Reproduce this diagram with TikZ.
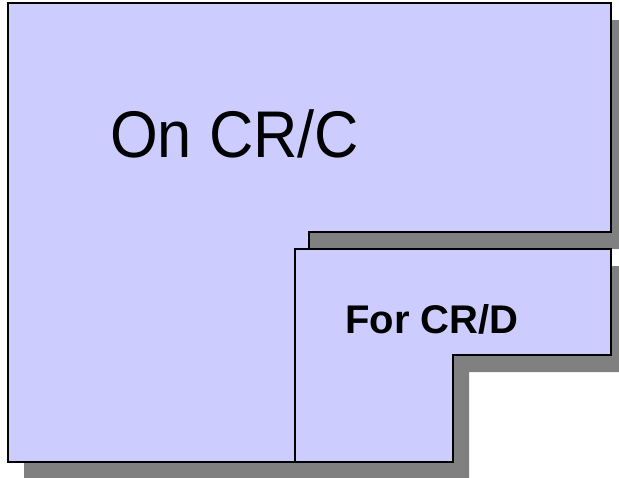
\documentclass[tikz,border=0pt]{standalone}
\usepackage{fontspec}
\setmainfont{Liberation Sans}
\newfontfamily\bigfont[FakeStretch=0.93]{Liberation Sans}
\usepackage{tikz}

\definecolor{lavender}{HTML}{CCCCFF}
\definecolor{shadowgray}{HTML}{808080}

\begin{document}
\begin{tikzpicture}[x=1pt,y=-1pt]
    \tikzstyle{area}=[draw=black,fill=lavender,line width=1.5pt,line join=miter]
    \tikzstyle{shade}=[fill=shadowgray]
    \tikzstyle{every node}=[inner sep=0pt,anchor=base west]

      \useasboundingbox (0,0) rectangle (619,477);

      % large region with its shadow
      \fill[shade,shift={(16,17)}] (8,3) -- (611,3) -- (611,232) -- (309,232)
        -- (309,462) -- (8,462) -- cycle;
      \draw[area] (8,3) -- (611,3) -- (611,232) -- (309,232)
        -- (309,462) -- (8,462) -- cycle;

      % smaller region with its shadow
      \fill[shade,shift={(16,17)}] (295,249) -- (611,249) -- (611,355) -- (453,355)
        -- (453,462) -- (295,462) -- cycle;
      \draw[area] (295,249) -- (611,249) -- (611,355) -- (453,355)
        -- (453,462) -- (295,462) -- cycle;

      \node (on) at (110,157) {\bigfont\fontsize{66}{70}\selectfont On CR/C};
      \node (for) at (345,333) {\fontsize{40}{44}\selectfont\bfseries For CR/D};
    \end{tikzpicture}
\end{document}
